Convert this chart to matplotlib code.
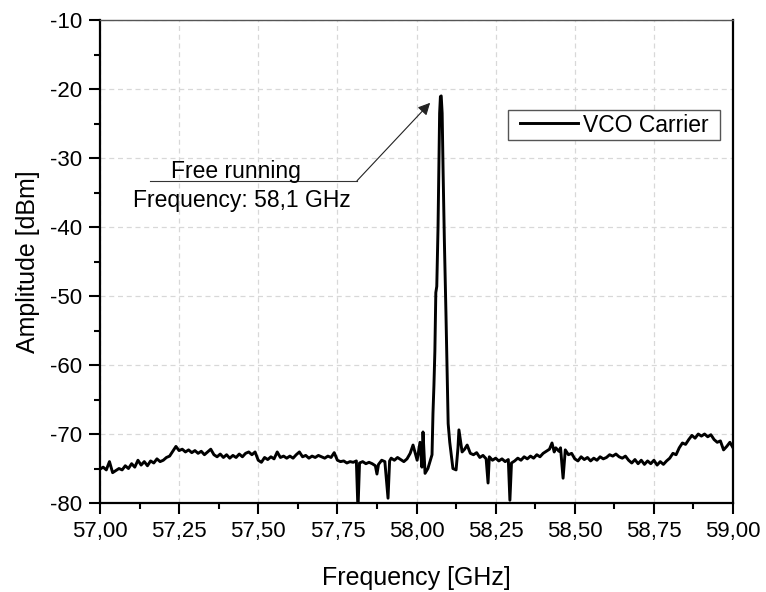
import matplotlib
matplotlib.use("Agg")
import matplotlib.pyplot as plt
from matplotlib.patches import Rectangle
from matplotlib.ticker import MultipleLocator, FuncFormatter

plt.rcParams['font.family'] = ['Liberation Sans', 'DejaVu Sans']

# spectrum trace (GHz, dBm)
freq_low = [57.00, 57.01, 57.02, 57.03, 57.04, 57.05, 57.06, 57.07, 57.08, 57.09,
            57.10, 57.11, 57.12, 57.13, 57.14, 57.15, 57.16, 57.17, 57.18, 57.19,
            57.20, 57.21, 57.22, 57.23, 57.24, 57.25, 57.26, 57.27, 57.28, 57.29,
            57.30, 57.31, 57.32, 57.33, 57.34, 57.35, 57.36, 57.37, 57.38, 57.39,
            57.40, 57.41, 57.42, 57.43, 57.44, 57.45, 57.46, 57.47, 57.48, 57.49,
            57.50, 57.51, 57.52, 57.53, 57.54, 57.55, 57.56, 57.57, 57.58, 57.59,
            57.60, 57.61, 57.62, 57.63, 57.64, 57.65, 57.66, 57.67, 57.68, 57.69,
            57.70, 57.71, 57.72, 57.73, 57.74, 57.75, 57.76, 57.77, 57.78, 57.79,
            57.80, 57.81, 57.815, 57.82, 57.83, 57.84, 57.85, 57.86, 57.87, 57.875,
            57.88, 57.89, 57.90, 57.91, 57.915, 57.92, 57.93, 57.94, 57.95, 57.96,
            57.97, 57.98, 57.989]
amp_low = [-75.1, -74.8, -75.2, -74.0, -75.6, -75.3, -75.0, -75.2, -74.6, -75.0,
           -74.3, -74.8, -73.8, -74.5, -74.0, -74.6, -73.9, -74.2, -73.6, -74.0,
           -73.8, -73.4, -73.2, -72.5, -71.8, -72.4, -72.2, -72.6, -72.3, -72.7,
           -72.4, -72.8, -72.5, -73.0, -72.6, -72.2, -73.0, -73.3, -72.9, -73.4,
           -73.0, -73.5, -73.1, -73.4, -72.9, -73.3, -72.8, -72.6, -73.0, -72.6,
           -73.8, -74.1, -73.4, -73.7, -73.3, -73.6, -72.6, -73.4, -73.2, -73.5,
           -73.2, -73.5, -73.0, -72.6, -73.3, -73.1, -73.5, -73.2, -73.4, -73.1,
           -73.3, -73.5, -73.2, -73.4, -72.7, -73.8, -74.0, -73.9, -74.2, -74.0,
           -74.1, -73.9, -81.0, -74.2, -74.0, -74.3, -74.1, -74.3, -74.6, -75.8,
           -74.4, -73.8, -74.0, -79.3, -73.9, -73.5, -73.8, -73.4, -73.7, -74.0,
           -73.6, -72.8, -71.6]

freq_peak = [58.002, 58.011, 58.017, 58.0205, 58.027, 58.036, 58.049, 58.052, 58.055,
             58.058, 58.061, 58.064, 58.068, 58.071, 58.073, 58.0755, 58.078, 58.081,
             58.084, 58.088, 58.093, 58.097, 58.100, 58.105, 58.115, 58.125, 58.131,
             58.134, 58.144, 58.152, 58.160]
amp_peak = [-73.8, -71.2, -74.8, -69.7, -75.7, -75.0, -73.0, -67.0, -63.0,
            -58.0, -49.5, -48.6, -40.0, -30.0, -23.5, -21.1, -21.0, -23.5,
            -32.0, -42.0, -52.5, -62.0, -68.5, -71.2, -75.0, -75.2, -72.0,
            -69.4, -72.6, -72.2, -71.6]

freq_high = [58.17, 58.18, 58.19, 58.20, 58.21, 58.22, 58.226, 58.23, 58.24, 58.25,
             58.26, 58.27, 58.28, 58.29, 58.295, 58.30, 58.31, 58.32, 58.33, 58.34,
             58.35, 58.36, 58.37, 58.38, 58.39, 58.40, 58.41, 58.42, 58.428, 58.435,
             58.44, 58.45, 58.455, 58.463, 58.47, 58.48, 58.49, 58.50, 58.51, 58.52,
             58.53, 58.54, 58.55, 58.56, 58.57, 58.58, 58.59, 58.60, 58.61, 58.62,
             58.63, 58.64, 58.65, 58.66, 58.67, 58.68, 58.69, 58.70, 58.71, 58.72,
             58.73, 58.74, 58.75, 58.76, 58.77, 58.78, 58.79, 58.80, 58.81, 58.82,
             58.83, 58.84, 58.85, 58.86, 58.87, 58.88, 58.89, 58.90, 58.91, 58.92,
             58.93, 58.94, 58.95, 58.96, 58.97, 58.98, 58.99, 59.00]
amp_high = [-72.8, -73.0, -72.7, -73.4, -73.1, -73.6, -77.1, -73.3, -73.8, -73.5,
            -73.9, -73.6, -74.0, -73.7, -79.6, -74.2, -73.9, -73.5, -73.8, -73.3,
            -73.6, -73.2, -73.5, -73.0, -73.3, -72.8, -72.5, -72.2, -71.3, -72.6,
            -72.0, -72.5, -72.0, -76.4, -72.3, -73.0, -72.8, -73.6, -73.9, -73.3,
            -73.7, -73.4, -73.9, -73.5, -73.8, -73.3, -73.6, -73.4, -73.0, -73.2,
            -72.9, -73.3, -73.5, -73.2, -73.8, -74.2, -73.7, -74.3, -73.8, -74.4,
            -73.9, -74.3, -73.8, -74.5, -74.0, -74.4, -73.9, -73.5, -72.8, -73.0,
            -72.0, -71.3, -71.5, -70.8, -70.2, -70.6, -70.0, -70.3, -70.0, -70.4,
            -70.1, -70.8, -71.2, -71.0, -72.3, -71.8, -71.2, -72.0]

freq = freq_low + freq_peak + freq_high
amp = amp_low + amp_peak + amp_high

fig = plt.figure(figsize=(7.66, 5.92), dpi=100)
ax = fig.add_axes([0.1305, 0.1503, 0.8265, 0.8159])

ax.plot(freq, amp, color='black', lw=2.1, label='VCO Carrier', zorder=3)

ax.set_xlim(57.0, 59.0)
ax.set_ylim(-80, -10)
ax.xaxis.set_major_locator(MultipleLocator(0.25))
ax.xaxis.set_minor_locator(MultipleLocator(0.125))
ax.yaxis.set_major_locator(MultipleLocator(10))
ax.yaxis.set_minor_locator(MultipleLocator(5))
ax.xaxis.set_major_formatter(FuncFormatter(lambda v, p: f"{v:.2f}".replace('.', ',')))
ax.yaxis.set_major_formatter(FuncFormatter(lambda v, p: f"{v:.0f}"))

ax.tick_params(which='major', direction='out', length=8, width=1.5, labelsize=16, pad=5)
ax.tick_params(which='minor', direction='out', length=4.5, width=1.5)
ax.grid(True, which='major', color='#d8d8d8', ls=(0, (4, 3)), lw=0.9)

for s in ['left', 'bottom', 'right']:
    ax.spines[s].set_linewidth(1.6)
ax.spines['top'].set_linewidth(1.0)
ax.spines['top'].set_color('#555555')

ax.set_xlabel('Frequency [GHz]', fontsize=18, labelpad=17)
ax.set_ylabel('Amplitude [dBm]', fontsize=18, labelpad=7)

# annotation
ax.text(57.43, -32.86, 'Free running', fontsize=16.5, ha='center', va='baseline')
ax.text(57.105, -37.06, 'Frequency: 58,1 GHz', fontsize=16.5, ha='left', va='baseline')
ax.plot([57.158, 57.812], [-33.3, -33.3], color='#333333', lw=0.8)
ax.annotate('', xy=(58.043, -22.0), xytext=(57.812, -33.3),
            arrowprops=dict(arrowstyle='-|>', color='#222222', lw=0.8,
                            mutation_scale=18, shrinkA=0, shrinkB=0))

# legend: frame drawn separately so the padding matches
ax.add_patch(Rectangle((0.6445, 0.7516), 0.335, 0.0621, transform=ax.transAxes,
                       facecolor='white', edgecolor='#555555', lw=1.0, zorder=4))
leg = ax.legend(loc='center left', bbox_to_anchor=(0.6635, 0.7826), borderaxespad=0,
                frameon=False, fontsize=16.5, handlelength=2.53, borderpad=0,
                handletextpad=0.2)
leg.set_zorder(5)

fig.savefig('out.png', dpi=100)
